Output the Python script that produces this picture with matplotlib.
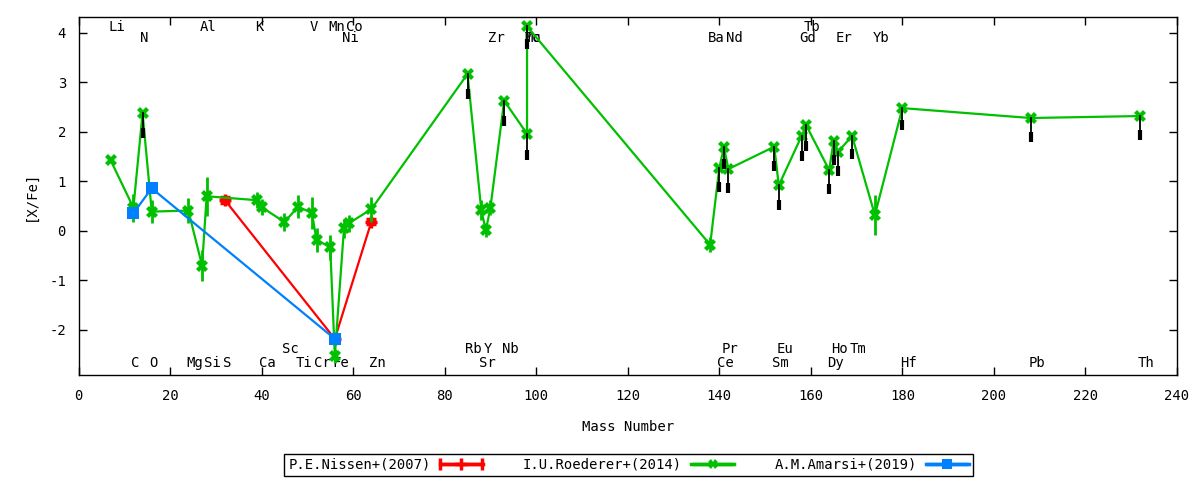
import matplotlib
matplotlib.use("Agg")
import matplotlib.pyplot as plt
from matplotlib.legend_handler import HandlerErrorbar
import numpy as np

plt.rcParams['font.family'] = ['DejaVu Sans Mono']
plt.rcParams['axes.unicode_minus'] = False

# ---- Roederer+(2014) (green) ----
roe_el = ["Li", "C", "N", "O", "Mg", "Al", "Si", "K", "Ca", "Sc", "Ti", "V", "Cr", "Mn", "Fe",
          "Ni", "Co", "Zn", "Rb", "Sr", "Y", "Zr", "Nb", "Mo", "Tc", "Ba", "Ce", "Pr", "Nd",
          "Sm", "Eu", "Gd", "Tb", "Dy", "Ho", "Er", "Tm", "Yb", "Hf", "Pb", "Th"]
roe_mass = [7, 12, 14, 16, 24, 27, 28, 39, 40, 45, 48, 51, 52, 55, 56,
            58, 59, 64, 85, 88, 89, 90, 93, 98, 98, 138, 140, 141, 142,
            152, 153, 158, 159, 164, 165, 166, 169, 174, 180, 208, 232]
roe_val = [1.43, 0.47, 2.38, 0.39, 0.41, -0.70, 0.70, 0.62, 0.48, 0.18, 0.49, 0.36, -0.18, -0.33, -2.52,
           0.05, 0.15, 0.44, 3.17, 0.42, 0.01, 0.47, 2.63, 1.96, 4.13, -0.28, 1.27, 1.69, 1.25,
           1.70, 0.92, 1.92, 2.13, 1.23, 1.82, 1.60, 1.92, 0.32, 2.48, 2.28, 2.32]
roe_err = [0.05, 0.28, 0.06, 0.23, 0.25, 0.32, 0.39, 0.16, 0.16, 0.18, 0.23, 0.33, 0.24, 0.25, 0.14,
           0.20, 0.18, 0.25, 0.05, 0.20, 0.14, 0.15, 0.05, 0.05, 0.05, 0.15, 0.06, 0.06, 0.06,
           0.05, 0.08, 0.06, 0.06, 0.08, 0.06, 0.06, 0.05, 0.40, 0.05, 0.05, 0.05]

# ---- black (lower) values attached to some Roederer points ----
low_el = ["N", "Rb", "Nb", "Mo", "Tc", "Ce", "Pr", "Nd", "Sm", "Eu", "Gd", "Tb",
          "Dy", "Ho", "Er", "Tm", "Hf", "Pb", "Th"]
low_val = [1.92, 2.70, 2.15, 1.47, 3.72, 0.82, 1.30, 0.80, 1.25, 0.46, 1.45, 1.66,
           0.78, 1.38, 1.15, 1.50, 2.08, 1.84, 1.88]

# ---- Nissen+(2007) (red) ----
nis_mass = [32, 56, 64]
nis_val = [0.62, -2.18, 0.19]
nis_err = [0.06, 0.05, 0.05]

# ---- Amarsi+(2019) (blue) ----
ama_mass = [12, 16, 56]
ama_val = [0.36, 0.86, -2.18]
ama_err = [0.03, 0.03, 0.03]

# ---- element labels (name, mass) per row ----
lab_top1 = [("Li", 7), ("Al", 27), ("K", 39), ("V", 51), ("Mn", 55), ("Co", 59), ("Tb", 159)]
lab_top2 = [("N", 14), ("Ni", 58), ("Zr", 90), ("Mo", 98), ("Tc", 98), ("Ba", 138), ("Nd", 142),
            ("Gd", 158), ("Er", 166), ("Yb", 174)]
lab_bot1 = [("Sc", 45), ("Rb", 85), ("Y", 89), ("Nb", 93), ("Pr", 141), ("Eu", 153),
            ("Ho", 165), ("Tm", 169)]
lab_bot2 = [("C", 12), ("O", 16), ("Mg", 24), ("Si", 28), ("S", 32), ("Ca", 40), ("Ti", 48),
            ("Cr", 52), ("Fe", 56), ("Zn", 64), ("Sr", 88), ("Ce", 140), ("Sm", 152),
            ("Dy", 164), ("Hf", 180), ("Pb", 208), ("Th", 232)]

series_names = ["P.E.Nissen+(2007)", "I.U.Roederer+(2014)", "A.M.Amarsi+(2019)"]

RED = "#ff0000"
GREEN = "#00c000"
BLUE = "#0080ff"

fig = plt.figure(figsize=(12, 4.8), dpi=100)
ax = fig.add_axes([78.5 / 1200, 105 / 480, (1177 - 78.5) / 1200, (375 - 17) / 480])

FS = 10

for rows, yv in ((lab_top1, 4.12), (lab_top2, 3.90), (lab_bot1, -2.38), (lab_bot2, -2.67)):
    for name, m in rows:
        ax.text(m - 0.5, yv, name, ha="left", va="center", fontsize=FS, zorder=1)

common = dict(lw=1.6, capsize=3.5, capthick=2.5, elinewidth=2)
ax.errorbar(nis_mass, nis_val, yerr=nis_err, color=RED, marker="+", ms=8, mew=2.5,
            zorder=3, **common)
ax.errorbar(roe_mass, roe_val, yerr=roe_err, color=GREEN, marker="X", ms=8, mew=0,
            zorder=4, **common)
ax.errorbar(ama_mass, ama_val, yerr=ama_err, color=BLUE, marker="s", ms=8, mew=0,
            zorder=5, **common)

# black lower marks
idx = {}
for i, e in enumerate(roe_el):
    idx.setdefault(e, i)
for e, lv in zip(low_el, low_val):
    i = idx[e]
    m = roe_mass[i]
    ax.plot([m, m], [roe_val[i], lv], color="black", lw=1.3, zorder=6)
    ax.plot([m], [lv + 0.06], marker="|", color="black", ms=7, mew=3, zorder=6)

# legend proxies (horizontal error-bar samples, gnuplot-like)
proxies = []
for col, mk, ms, mew, nm in ((RED, "+", 8, 2.5, series_names[0]),
                              (GREEN, "X", 7, 0, series_names[1]),
                              (BLUE, "s", 7, 0, series_names[2])):
    p = ax.errorbar([np.nan], [np.nan], xerr=[1], color=col, marker=mk, ms=ms, mew=mew,
                    lw=2.5, capsize=4, capthick=2.5, elinewidth=2.5, label=nm)
    proxies.append(p)

ax.set_xlim(0, 240)
ax.set_ylim(-2.91, 4.32)
ax.set_xticks(np.arange(0, 241, 20))
ax.set_yticks(np.arange(-2, 5, 1))
ax.tick_params(direction="in", length=6, width=1, top=True, right=True, labelsize=FS)
ax.tick_params(axis="x", pad=10)
ax.tick_params(axis="y", pad=9)
for s in ax.spines.values():
    s.set_linewidth(1)
    s.set_color("black")

ax.set_xlabel("Mass Number", fontsize=FS, labelpad=12)
ax.set_ylabel("[X/Fe]", fontsize=FS, labelpad=8)

leg = fig.legend(handles=proxies, loc="center", bbox_to_anchor=(628.5 / 1200, 15 / 480),
                 ncol=3, markerfirst=False, fontsize=FS, frameon=True, fancybox=False,
                 edgecolor="black", framealpha=1, handlelength=3.1, columnspacing=2.9,
                 borderpad=0.3, handletextpad=0.65, borderaxespad=0,
                 handler_map={type(proxies[0]): HandlerErrorbar(xerr_size=1.5)})
leg.get_frame().set_linewidth(1)

fig.savefig("out.png", dpi=100)
